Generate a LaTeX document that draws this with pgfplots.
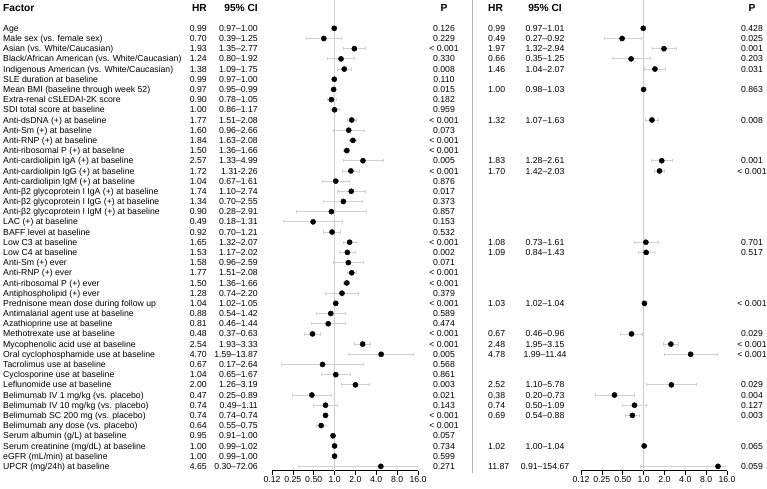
\documentclass[border=0pt]{standalone}
\usepackage{fontspec}
\setmainfont{Liberation Sans}
\usepackage{pgfplots}
\usepackage{pgfplotstable}
\pgfplotsset{compat=1.18}

% univariable: row, HR, lower, upper
\pgfplotstableread{
r hr lo hi
0 0.99 0.97 1.00
1 0.70 0.39 1.25
2 1.93 1.35 2.77
3 1.24 0.80 1.92
4 1.38 1.09 1.75
5 0.99 0.97 1.00
6 0.97 0.95 0.99
7 0.90 0.78 1.05
8 1.00 0.86 1.17
9 1.77 1.51 2.08
10 1.60 0.96 2.66
11 1.84 1.63 2.08
12 1.50 1.36 1.66
13 2.57 1.33 4.99
14 1.72 1.31 2.26
15 1.04 0.67 1.61
16 1.74 1.10 2.74
17 1.34 0.70 2.55
18 0.90 0.28 2.91
19 0.49 0.18 1.31
20 0.92 0.70 1.21
21 1.65 1.32 2.07
22 1.53 1.17 2.02
23 1.58 0.96 2.59
24 1.77 1.51 2.08
25 1.50 1.36 1.66
26 1.28 0.74 2.20
27 1.04 1.02 1.05
28 0.88 0.54 1.42
29 0.81 0.46 1.44
30 0.48 0.37 0.63
31 2.54 1.93 3.33
32 4.70 1.59 13.87
33 0.67 0.17 2.64
34 1.04 0.65 1.67
35 2.00 1.26 3.19
36 0.47 0.25 0.89
37 0.74 0.49 1.11
38 0.74 0.74 0.74
39 0.64 0.55 0.75
40 0.95 0.91 1.00
41 1.00 0.99 1.02
42 1.00 0.99 1.00
43 4.65 0.30 72.06
}\unitab

% multivariable
\pgfplotstableread{
r hr lo hi
0 0.99 0.97 1.01
1 0.49 0.27 0.92
2 1.97 1.32 2.94
3 0.66 0.35 1.25
4 1.46 1.04 2.07
6 1.00 0.98 1.03
9 1.32 1.07 1.63
13 1.83 1.28 2.61
14 1.70 1.42 2.03
21 1.08 0.73 1.61
22 1.09 0.84 1.43
27 1.03 1.02 1.04
30 0.67 0.46 0.96
31 2.48 1.95 3.15
32 4.78 1.99 11.44
35 2.52 1.10 5.78
36 0.38 0.20 0.73
37 0.74 0.50 1.09
38 0.69 0.54 0.88
41 1.02 1.00 1.04
43 11.87 0.91 154.67
}\multitab

\newcommand{\txtfont}{\fontsize{8.7bp}{10bp}\selectfont}

\tikzset{
  lbl/.style={font=\txtfont, inner sep=0pt, text height=6.2bp, text depth=0pt},
  hdr/.style={font=\bfseries\fontsize{10.2bp}{11bp}\selectfont, inner sep=0pt, text height=7.3bp, text depth=0pt},
}

\newcommand{\fac}[5]{%
  \node[lbl, anchor=west] at (3,#1) {#2};
  \node[lbl, anchor=east] at (207,#1) {#3};
  \node[lbl, anchor=east] at (258,#1) {#4};
  \node[lbl] at (444,#1) {#5};
}
\newcommand{\mv}[4]{%
  \node[lbl, anchor=west] at (488,#1) {#2};
  \node[lbl] at (545,#1) {#3};
  \node[lbl] at (752,#1) {#4};
}

\begin{document}
\begin{tikzpicture}
\useasboundingbox (0,0) rectangle (767bp,489bp);

\begin{semilogxaxis}[
    at={(272bp,18.3bp)}, anchor=south west,
    scale only axis, width=146bp, height=470.7bp,
    log basis x=2, xmin=0.125, xmax=16,
    ymin=-2.78, ymax=43.43, y dir=reverse,
    axis x line*=bottom, axis y line=none, ytick=\empty,
    xtick={0.125,0.25,0.5,1,2,4,8,16},
    xticklabels={0.12,0.25,0.50,1.0,2.0,4.0,8.0,16.0},
    tick align=outside, major tick length=4bp,
    x axis line style={line width=0.6bp},
    xtick style={black, line width=0.6bp},
    xticklabel style={font=\txtfont, inner sep=1.5bp},
]
\addplot[gray!40, line width=0.7bp] coordinates {(1,-2.78) (1,43.43)};
\addplot[black, only marks, mark=*, mark size=2.6bp,
  error bars/.cd, x dir=both, x explicit,
  error bar style={gray!35, line width=0.8bp},
  error mark options={gray!35, line width=0.8bp, mark size=1.6bp, rotate=90}]
  table[x=hr, y=r,
  x error plus expr=\thisrow{hi}-\thisrow{hr},
  x error minus expr=\thisrow{hr}-\thisrow{lo}] {\unitab};
\end{semilogxaxis}

\begin{semilogxaxis}[
    at={(581bp,18.3bp)}, anchor=south west,
    scale only axis, width=146bp, height=470.7bp,
    log basis x=2, xmin=0.125, xmax=16,
    ymin=-2.78, ymax=43.43, y dir=reverse,
    axis x line*=bottom, axis y line=none, ytick=\empty,
    xtick={0.125,0.25,0.5,1,2,4,8,16},
    xticklabels={0.12,0.25,0.50,1.0,2.0,4.0,8.0,16.0},
    tick align=outside, major tick length=4bp,
    x axis line style={line width=0.6bp},
    xtick style={black, line width=0.6bp},
    xticklabel style={font=\txtfont, inner sep=1.5bp},
]
\addplot[gray!40, line width=0.7bp] coordinates {(1,-2.78) (1,43.43)};
\addplot[black, only marks, mark=*, mark size=2.6bp,
  error bars/.cd, x dir=both, x explicit,
  error bar style={gray!35, line width=0.8bp},
  error mark options={gray!35, line width=0.8bp, mark size=1.6bp, rotate=90}]
  table[x=hr, y=r,
  x error plus expr=\thisrow{hi}-\thisrow{hr},
  x error minus expr=\thisrow{hr}-\thisrow{lo}] {\multitab};
\end{semilogxaxis}

\draw[gray!60, line width=0.8bp] (472bp,16bp) -- (472bp,489bp);

\begin{scope}[x=1bp, y=-10.186bp, shift={(0,460.7bp)}]
\node[hdr, anchor=west] at (3,-2) {Factor};
\node[hdr, anchor=east] at (207,-2) {HR};
\node[hdr, anchor=east] at (258,-2) {95\% CI};
\node[hdr] at (444,-2) {P};
\node[hdr, anchor=west] at (488,-2) {HR};
\node[hdr] at (545,-2) {95\% CI};
\node[hdr] at (752,-2) {P};

\fac{0}{Age}{0.99}{0.97--1.00}{0.126}
\fac{1}{Male sex (vs. female sex)}{0.70}{0.39--1.25}{0.229}
\fac{2}{Asian (vs. White/Caucasian)}{1.93}{1.35--2.77}{< 0.001}
\fac{3}{Black/African American (vs. White/Caucasian)}{1.24}{0.80--1.92}{0.330}
\fac{4}{Indigenous American (vs. White/Caucasian)}{1.38}{1.09--1.75}{0.008}
\fac{5}{SLE duration at baseline}{0.99}{0.97--1.00}{0.110}
\fac{6}{Mean BMI (baseline through week 52)}{0.97}{0.95--0.99}{0.015}
\fac{7}{Extra-renal cSLEDAI-2K score}{0.90}{0.78--1.05}{0.182}
\fac{8}{SDI total score at baseline}{1.00}{0.86--1.17}{0.959}
\fac{9}{Anti-dsDNA (+) at baseline}{1.77}{1.51--2.08}{< 0.001}
\fac{10}{Anti-Sm (+) at baseline}{1.60}{0.96--2.66}{0.073}
\fac{11}{Anti-RNP (+) at baseline}{1.84}{1.63--2.08}{< 0.001}
\fac{12}{Anti-ribosomal P (+) at baseline}{1.50}{1.36--1.66}{< 0.001}
\fac{13}{Anti-cardiolipin IgA (+) at baseline}{2.57}{1.33--4.99}{0.005}
\fac{14}{Anti-cardiolipin IgG (+) at baseline}{1.72}{1.31-2.26}{< 0.001}
\fac{15}{Anti-cardiolipin IgM (+) at baseline}{1.04}{0.67--1.61}{0.876}
\fac{16}{Anti-β2 glycoprotein I IgA (+) at baseline}{1.74}{1.10--2.74}{0.017}
\fac{17}{Anti-β2 glycoprotein I IgG (+) at baseline}{1.34}{0.70--2.55}{0.373}
\fac{18}{Anti-β2 glycoprotein I IgM (+) at baseline}{0.90}{0.28--2.91}{0.857}
\fac{19}{LAC (+) at baseline}{0.49}{0.18--1.31}{0.153}
\fac{20}{BAFF level at baseline}{0.92}{0.70--1.21}{0.532}
\fac{21}{Low C3 at baseline}{1.65}{1.32--2.07}{< 0.001}
\fac{22}{Low C4 at baseline}{1.53}{1.17--2.02}{0.002}
\fac{23}{Anti-Sm (+) ever}{1.58}{0.96--2.59}{0.071}
\fac{24}{Anti-RNP (+) ever}{1.77}{1.51--2.08}{< 0.001}
\fac{25}{Anti-ribosomal P (+) ever}{1.50}{1.36--1.66}{< 0.001}
\fac{26}{Antiphospholipid (+) ever}{1.28}{0.74--2.20}{0.379}
\fac{27}{Prednisone mean dose during follow up}{1.04}{1.02--1.05}{< 0.001}
\fac{28}{Antimalarial agent use at baseline}{0.88}{0.54--1.42}{0.589}
\fac{29}{Azathioprine use at baseline}{0.81}{0.46--1.44}{0.474}
\fac{30}{Methotrexate use at baseline}{0.48}{0.37--0.63}{< 0.001}
\fac{31}{Mycophenolic acid use at baseline}{2.54}{1.93--3.33}{< 0.001}
\fac{32}{Oral cyclophosphamide use at baseline}{4.70}{1.59--13.87}{0.005}
\fac{33}{Tacrolimus use at baseline}{0.67}{0.17--2.64}{0.568}
\fac{34}{Cyclosporine use at baseline}{1.04}{0.65--1.67}{0.861}
\fac{35}{Leflunomide use at baseline}{2.00}{1.26--3.19}{0.003}
\fac{36}{Belimumab IV 1 mg/kg (vs. placebo)}{0.47}{0.25--0.89}{0.021}
\fac{37}{Belimumab IV 10 mg/kg (vs. placebo)}{0.74}{0.49--1.11}{0.143}
\fac{38}{Belimumab SC 200 mg (vs. placebo)}{0.74}{0.74--0.74}{< 0.001}
\fac{39}{Belimumab any dose (vs. placebo)}{0.64}{0.55--0.75}{< 0.001}
\fac{40}{Serum albumin (g/L) at baseline}{0.95}{0.91--1.00}{0.057}
\fac{41}{Serum creatinine (mg/dL) at baseline}{1.00}{0.99--1.02}{0.734}
\fac{42}{eGFR (mL/min) at baseline}{1.00}{0.99--1.00}{0.599}
\fac{43}{UPCR (mg/24h) at baseline}{4.65}{0.30--72.06}{0.271}

\mv{0}{0.99}{0.97--1.01}{0.428}
\mv{1}{0.49}{0.27--0.92}{0.025}
\mv{2}{1.97}{1.32--2.94}{0.001}
\mv{3}{0.66}{0.35--1.25}{0.203}
\mv{4}{1.46}{1.04--2.07}{0.031}
\mv{6}{1.00}{0.98--1.03}{0.863}
\mv{9}{1.32}{1.07--1.63}{0.008}
\mv{13}{1.83}{1.28--2.61}{0.001}
\mv{14}{1.70}{1.42--2.03}{< 0.001}
\mv{21}{1.08}{0.73--1.61}{0.701}
\mv{22}{1.09}{0.84--1.43}{0.517}
\mv{27}{1.03}{1.02--1.04}{< 0.001}
\mv{30}{0.67}{0.46--0.96}{0.029}
\mv{31}{2.48}{1.95--3.15}{< 0.001}
\mv{32}{4.78}{1.99--11.44}{< 0.001}
\mv{35}{2.52}{1.10--5.78}{0.029}
\mv{36}{0.38}{0.20--0.73}{0.004}
\mv{37}{0.74}{0.50--1.09}{0.127}
\mv{38}{0.69}{0.54--0.88}{0.003}
\mv{41}{1.02}{1.00--1.04}{0.065}
\mv{43}{11.87}{0.91--154.67}{0.059}
\end{scope}
\end{tikzpicture}
\end{document}
